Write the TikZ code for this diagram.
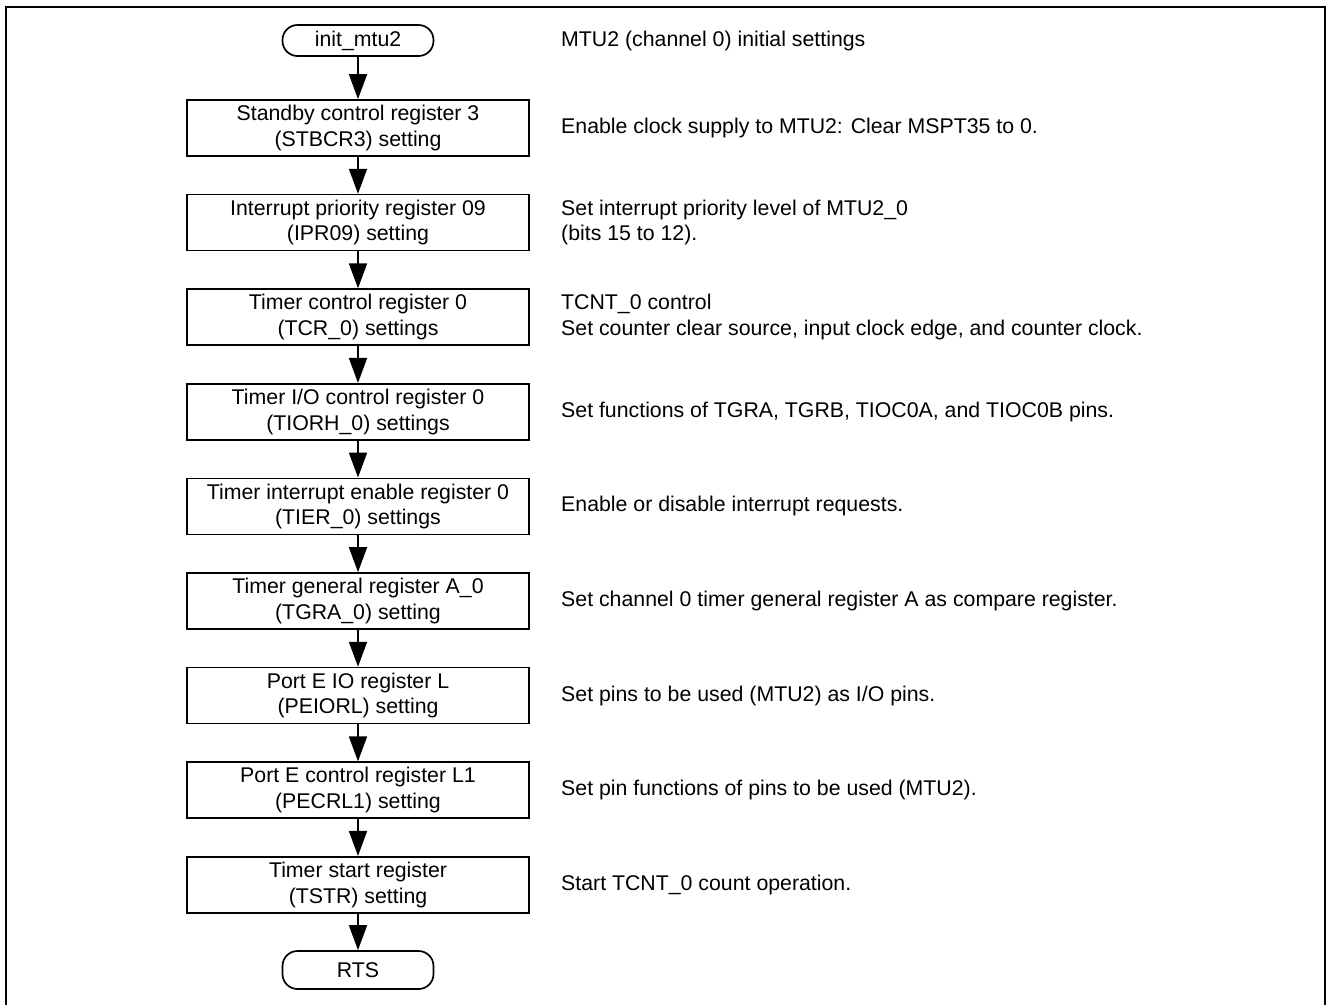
\documentclass[tikz,border=0pt]{standalone}
\usepackage{fontspec}
\setmainfont{Liberation Sans}
\usetikzlibrary{arrows.meta}

\begin{document}
\begin{tikzpicture}[x=1pt, y=-1pt,
		every node/.style={font=\fontsize{21.3}{25.5}\selectfont},
		regbox/.style={draw, line width=1.7pt, minimum width=342pt, minimum height=56pt, align=center, inner sep=0pt},
		term/.style={draw, line width=1.7pt, rounded corners=15pt, minimum width=151pt, inner sep=0pt},
		note/.style={anchor=west, align=left, inner sep=0pt},
		flow/.style={-{Triangle[length=25pt, width=18pt]}, line width=1.8pt}
	]
		\useasboundingbox (0, 0) rectangle (1326, 1005);
		\draw[line width=2pt] (6, 1005) -- (6, 7) -- (1325, 7) -- (1325, 1005);
		\node[term, minimum height=31pt] (start) at (358, 40.5) {init\_mtu2};
		\node[note] (n0) at (561, 40.5) {MTU2 (channel 0) initial settings};
		\foreach[count=\i] \reg/\txt in {
			{Standby control register 3\\(STBCR3) setting}/{Enable clock supply to MTU2: Clear MSPT35 to 0.},
			{Interrupt priority register 09\\(IPR09) setting}/{Set interrupt priority level of MTU2\_0\\(bits 15 to 12).},
			{Timer control register 0\\(TCR\_0) settings}/{TCNT\_0 control\\Set counter clear source, input clock edge, and counter clock.},
			{Timer I/O control register 0\\(TIORH\_0) settings}/{Set functions of TGRA, TGRB, TIOC0A, and TIOC0B pins.},
			{Timer interrupt enable register 0\\(TIER\_0) settings}/{Enable or disable interrupt requests.},
			{Timer general register A\_0\\(TGRA\_0) setting}/{Set channel 0 timer general register A as compare register.},
			{Port E IO register L\\(PEIORL) setting}/{Set pins to be used (MTU2) as I/O pins.},
			{Port E control register L1\\(PECRL1) setting}/{Set pin functions of pins to be used (MTU2).},
			{Timer start register\\(TSTR) setting}/{Start TCNT\_0 count operation.}
		} {
			\node[regbox] (b\i) at (358, 128 + 94.6*\i - 94.6) {\reg};
			\node[note] (n\i) at (561, 128 + 94.6*\i - 94.6) {\txt};
		}
		\node[term, minimum height=38pt] (rts) at (358, 970) {RTS};
		% connectors
		\draw[flow] (start) -- (b1);
		\foreach \i [evaluate=\i as \j using int(\i+1)] in {1,...,8} {
			\draw[flow] (b\i) -- (b\j);
		}
		\draw[flow] (b9) -- (rts);
	\end{tikzpicture}
\end{document}
